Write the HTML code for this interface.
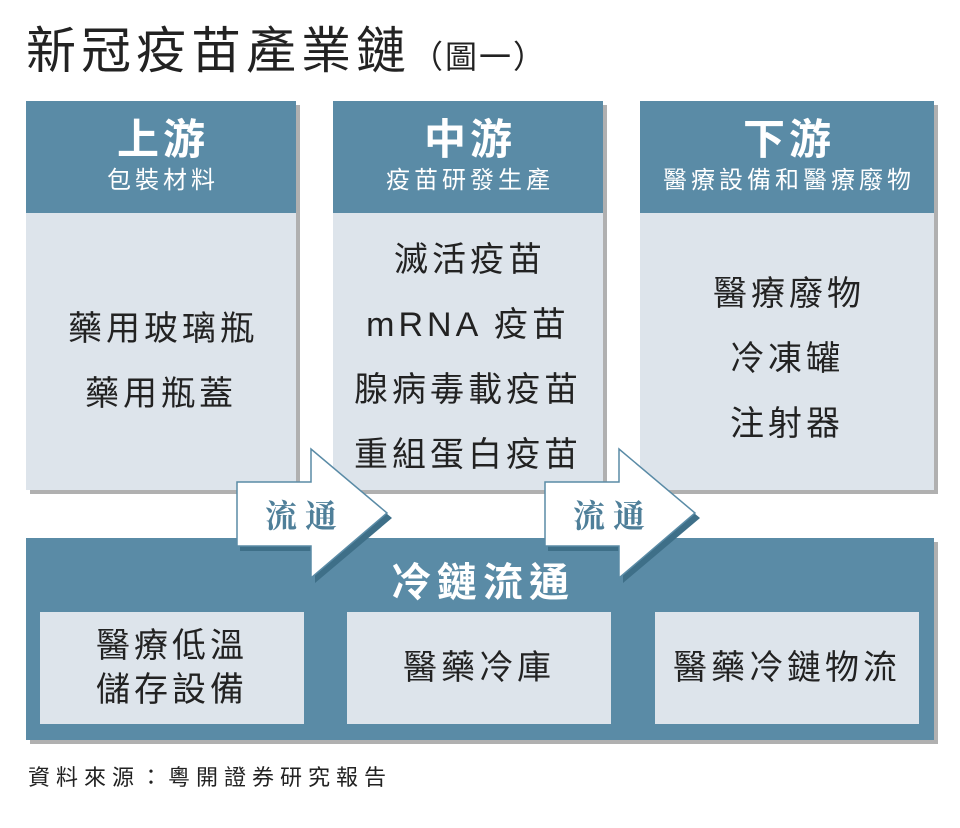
<!DOCTYPE html>
<html><head><meta charset="utf-8"><style>
body{margin:0;width:960px;height:828px;background:#fff;position:relative;overflow:hidden;font-family:"Liberation Sans","Noto Sans CJK TC",sans-serif}
.a{position:absolute}
.col{position:absolute;top:101px;height:389px;background:#dde4eb;box-shadow:4px 4px 0 #b0b0b0}
.hd{position:absolute;left:0;right:0;top:0;height:112px;background:#5a8ba6;color:#fff;text-align:center}
.hd .t{font-size:42px;font-weight:bold;margin-top:16px;line-height:46px;letter-spacing:4px;text-indent:4px}
.hd .s{font-size:24px;margin-top:4px;line-height:28px;letter-spacing:4px;text-indent:4px}
.bd{position:absolute;left:0;right:0;text-align:center;font-size:34px;color:#222;line-height:65px;letter-spacing:4px;text-indent:4px}
.in{position:absolute;top:612px;height:112px;width:264px;background:#dde4eb;text-align:center;font-size:34px;color:#222;display:flex;align-items:center;justify-content:center;line-height:44px;letter-spacing:4px}
</style></head><body>
<div class="a" style="left:26px;top:16px;font-size:50px;color:#222;font-family:'Noto Sans CJK TC',sans-serif;line-height:62px;letter-spacing:5px">新冠疫苗產業鏈<span style="font-size:32px;letter-spacing:2px">（圖一）</span></div>
<div class="col" style="left:26px;width:270px"><div class="hd"><div class="t">上游</div><div class="s">包裝材料</div></div>
<div class="bd" style="top:196px">藥用玻璃瓶<br>藥用瓶蓋</div></div>
<div class="col" style="left:333px;width:270px"><div class="hd"><div class="t">中游</div><div class="s">疫苗研發生產</div></div>
<div class="bd" style="top:127px">滅活疫苗<br>mRNA 疫苗<br>腺病毒載疫苗<br>重組蛋白疫苗</div></div>
<div class="col" style="left:640px;width:294px"><div class="hd"><div class="t">下游</div><div class="s">醫療設備和醫療廢物</div></div>
<div class="bd" style="top:161px">醫療廢物<br>冷凍罐<br>注射器</div></div>
<div class="a" style="left:26px;top:538px;width:908px;height:202px;background:#5a8ba6;box-shadow:4px 4px 0 #b0b0b0"></div>
<div class="a" style="left:26px;top:550px;width:908px;text-align:center;color:#fff;font-size:40px;font-weight:bold;letter-spacing:6px;text-indent:6px">冷鏈流通</div>
<div class="in" style="left:40px">醫療低溫<br>儲存設備</div>
<div class="in" style="left:347px">醫藥冷庫</div>
<div class="in" style="left:655px">醫藥冷鏈物流</div>
<svg class="a" style="left:0;top:0" width="960" height="828">
<g fill="#3e6f88"><polygon points="240,486 315,486 315,454 392,518 315,583 315,551 240,551"/><polygon points="548,486 623,486 623,454 700,518 623,583 623,551 548,551"/></g>
<g fill="#fff" stroke="#5a8ba6" stroke-width="1.5"><polygon points="237,482 311,482 311,449 387,513 311,578 311,546 237,546"/><polygon points="545,482 619,482 619,449 695,513 619,578 619,546 545,546"/></g>
<g fill="#4f7f99" font-size="32" font-weight="bold" font-family="Noto Serif CJK SC,serif"><text x="265" y="527">流 通</text><text x="573" y="527">流 通</text></g>
</svg>
<div class="a" style="left:28px;top:760px;font-size:22px;color:#222;letter-spacing:6px">資料來源：粵開證券研究報告</div>
</body></html>
